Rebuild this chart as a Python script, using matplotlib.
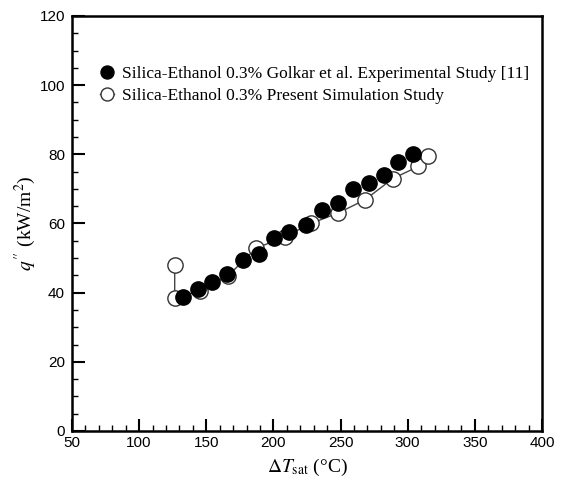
import numpy as np
import matplotlib.pyplot as plt
from matplotlib.ticker import MultipleLocator

plt.rcParams['mathtext.fontset'] = 'stix'

# experimental data (Golkar et al.)
exp_dt = [133, 144, 154, 165.5, 177, 189, 200.5, 211.5, 224, 236, 248, 259.5, 271, 282, 293, 304]
exp_q = [38.8, 41.0, 43.2, 45.4, 49.5, 51.3, 55.7, 57.6, 59.7, 63.8, 65.8, 69.9, 71.8, 74.0, 77.9, 80.0]

# present simulation
sim_dt = [126.5, 126.5, 145, 166, 187, 208.5, 228, 248, 268, 289, 308, 315]
sim_q = [48.0, 38.4, 40.5, 44.8, 52.8, 56.2, 60.0, 63.0, 66.8, 73.0, 76.5, 79.5]

fig = plt.figure(figsize=(5.69, 4.8), dpi=100)
ax = fig.add_axes([0.1265, 0.1021, 0.826, 0.8646])

ax.plot(sim_dt, sim_q, '-', color='#444444', lw=1.0, marker='o', ms=11,
        mfc='white', mec='#333333', mew=1.0,
        label='Silica-Ethanol 0.3% Present Simulation Study', zorder=2)
ax.plot(exp_dt, exp_q, 'o', color='black', ms=11, mec='black',
        label='Silica-Ethanol 0.3% Golkar et al. Experimental Study [11]', zorder=3)

ax.set_xlim(50, 400)
ax.set_ylim(0, 120)
ax.xaxis.set_major_locator(MultipleLocator(50))
ax.xaxis.set_minor_locator(MultipleLocator(10))
ax.yaxis.set_major_locator(MultipleLocator(20))
ax.yaxis.set_minor_locator(MultipleLocator(5))
ax.tick_params(which='major', direction='in', length=9, width=1.5, labelsize=11)
ax.tick_params(axis='y', which='major', pad=5)
ax.tick_params(which='minor', direction='in', length=4.5, width=1.0)
for lab in ax.get_xticklabels() + ax.get_yticklabels():
    lab.set_family('Liberation Sans')
for s in ax.spines.values():
    s.set_linewidth(1.8)

ax.set_xlabel(r'$\Delta T_{\mathrm{sat}}$ (°C)', family='Liberation Serif', fontsize=14, labelpad=5)
ax.set_ylabel(r"$q^{\prime\prime}$ (kW/m$^2$)", family='Liberation Serif', fontsize=14, labelpad=1)

h, l = ax.get_legend_handles_labels()
ax.legend(h[::-1], l[::-1], loc='upper left', bbox_to_anchor=(0.06, 0.88), frameon=False,
          prop={'family': 'Liberation Serif', 'size': 12.5}, handlelength=0.8,
          handletextpad=0.45, labelspacing=0.35, borderpad=0, borderaxespad=0,
          numpoints=1, markerscale=0.85)

fig.savefig('out.png', dpi=100)
